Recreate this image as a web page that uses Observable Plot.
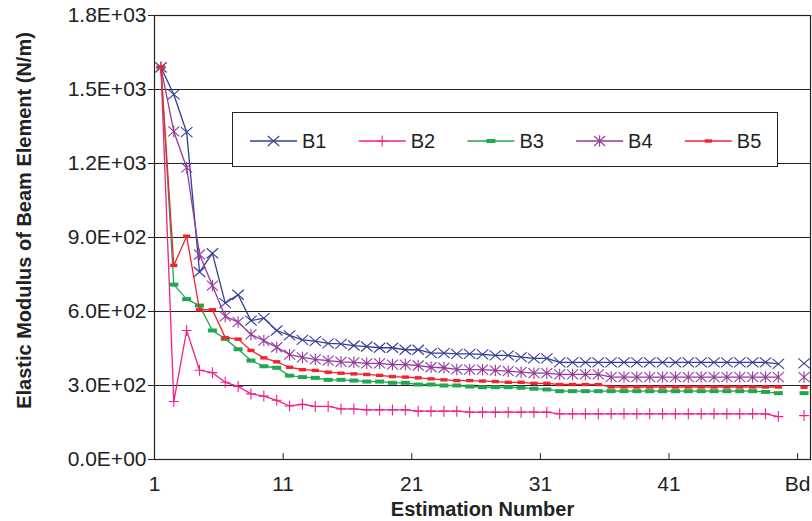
<!DOCTYPE html>
<html><head><meta charset="utf-8">
<script src="https://cdn.jsdelivr.net/npm/d3@7"></script>
<script src="https://cdn.jsdelivr.net/npm/@observablehq/plot@0.6"></script>
<style>
body{margin:0;background:#fff;font-family:"Liberation Sans",Arial,sans-serif;}
#chart{position:relative;width:812px;height:521px;}
#legend{position:absolute;left:232px;top:112px;width:546px;height:55px;border:1px solid #222;background:#fff;box-sizing:border-box;}
</style></head><body><div id="chart"></div>
<script>
// ---- data ----
const seriesNames = ["B1", "B2", "B3", "B4", "B5"];
const seriesColors = ["#343C9A", "#F0208C", "#1FA84F", "#933A9B", "#F5222D"];
const B1 = [1590, 1480, 1327, 760, 836, 634, 668, 563, 573, 523, 503, 485, 480, 471, 469, 462, 458, 453, 453, 445,
  445, 431, 431, 428, 428, 426, 422, 422, 415, 410, 410, 394, 394, 394, 394, 394, 394, 394, 394, 394,
  394, 394, 394, 394, 394, 394, 394, 394, 388];
const B2 = [1590, 235, 523, 362, 352, 313, 296, 266, 257, 240, 217, 224, 215, 215, 205, 205, 201, 201, 201, 201,
  196, 196, 196, 196, 192, 192, 192, 192, 192, 192, 192, 185, 185, 185, 185, 185, 185, 185, 185, 185,
  185, 185, 185, 185, 185, 185, 185, 185, 174];
const B3 = [1590, 709, 650, 624, 523, 489, 447, 401, 378, 372, 340, 334, 331, 323, 323, 320, 316, 316, 311, 311,
  304, 304, 300, 300, 296, 293, 293, 293, 291, 287, 284, 277, 277, 277, 277, 277, 277, 277, 277, 277,
  277, 277, 277, 277, 277, 277, 277, 274, 269];
const B4 = [1590, 1330, 1183, 831, 705, 580, 557, 507, 482, 455, 425, 414, 406, 401, 396, 394, 390, 390, 385, 385,
  381, 374, 372, 365, 364, 364, 361, 358, 354, 350, 350, 345, 345, 345, 345, 334, 334, 334, 334, 334,
  334, 334, 334, 334, 334, 334, 334, 334, 334];
const B5 = [1590, 787, 905, 607, 607, 494, 488, 442, 412, 396, 374, 364, 361, 354, 350, 347, 345, 341, 336, 334,
  331, 327, 323, 320, 320, 318, 316, 313, 313, 309, 309, 304, 304, 304, 304, 294, 294, 294, 294, 294,
  294, 294, 294, 294, 294, 294, 294, 294, 294];
const bdValues = [390, 178, 269, 334, 293];   // "Bd" column, per series
const bdIndex = 51;                            // category slot of "Bd"
const xTickLabels = ["1", "11", "21", "31", "41", "Bd"];
const yTicks = [0, 300, 600, 900, 1200, 1500, 1800];
const yLabel = "Elastic Modulus of Beam Element (N/m)";
const xLabel = "Estimation Number";

// ---- build table ----
const seriesValues = [B1, B2, B3, B4, B5];
const rows = [];
seriesNames.forEach((s, k) => {
  seriesValues[k].forEach((v, i) => rows.push({series: s, x: i + 1, y: v, bd: false}));
  rows.push({series: s, x: bdIndex, y: bdValues[k], bd: true});
});
const xTickPos = xTickLabels.map(l => (l === "Bd" ? bdIndex : +l) - 0.5);
const xTickText = new Map(xTickPos.map((p, i) => [p, xTickLabels[i]]));
const sciFmt = d => {
  const [m, e] = d.toExponential(1).split("e");
  return m + "E" + (e[0] === "-" ? "-" : "+") + String(Math.abs(+e)).padStart(2, "0");
};

// ---- marker symbols ----
const rad = size => Math.sqrt(size / Math.PI);
const symTimes = {draw(c, size) {const r = rad(size), w = r * 1.15; c.moveTo(-w, -r); c.lineTo(w, r); c.moveTo(w, -r); c.lineTo(-w, r);}};
const symPlus = {draw(c, size) {const r = rad(size); c.moveTo(-r, 0); c.lineTo(r, 0); c.moveTo(0, -r * 1.1); c.lineTo(0, r * 1.1);}};
const symAst = {draw(c, size) {const r = rad(size), w = r * 1.1; c.moveTo(-w, -r); c.lineTo(w, r); c.moveTo(w, -r); c.lineTo(-w, r); c.moveTo(0, -r * 1.15); c.lineTo(0, r * 1.15);}};
const symDashG = {draw(c, size) {const r = rad(size); c.rect(-r * 0.9, -r * 0.4, r * 1.8, r * 0.8);}};
const symDashR = {draw(c, size) {const r = rad(size); c.rect(-r * 0.72, -r * 0.34, r * 1.44, r * 0.68);}};
const markerSpec = [
  {symbol: symTimes, filled: false},
  {symbol: symPlus, filled: false},
  {symbol: symDashG, filled: true},
  {symbol: symAst, filled: false},
  {symbol: symDashR, filled: true}
];
const markerR = 5;

const tickUp = {draw(c, l) {c.moveTo(0, 0); c.lineTo(0, -l);}};

const marks = [
  Plot.gridY(yTicks.filter(t => t > 0), {stroke: "#222", strokeOpacity: 1, strokeWidth: 1}),
  Plot.frame({stroke: "#222", strokeWidth: 1.2})
];
seriesNames.forEach((s, k) => {
  const color = seriesColors[k];
  marks.push(Plot.line(rows.filter(d => d.series === s && !d.bd), {x: "x", y: "y", stroke: color, strokeWidth: 1.3}));
  const ms = markerSpec[k];
  marks.push(Plot.dot(rows.filter(d => d.series === s), {
    x: "x", y: "y", r: markerR, symbol: ms.symbol,
    fill: ms.filled ? color : "none", stroke: ms.filled ? "none" : color, strokeWidth: 1.1
  }));
});
marks.push(
  Plot.axisY({ticks: yTicks, tickFormat: sciFmt, tickSize: 6, tickPadding: 2, fontSize: 21, label: null, stroke: "#222", fill: "#222"}),
  Plot.axisX(xTickPos, {tickSize: 0, tickPadding: 17, tickFormat: d => xTickText.get(d), fontSize: 21, label: null, fill: "#222"}),
  Plot.vector(xTickPos, {x: d => d, frameAnchor: "bottom", length: 6, anchor: "start", shape: tickUp, stroke: "#222", strokeWidth: 1}),
  Plot.text([yLabel], {frameAnchor: "left", textAnchor: "middle", lineAnchor: "middle", dx: -130, dy: -17, rotate: -90, fontSize: 20, fontWeight: "bold", fill: "#222"}),
  Plot.text([xLabel], {frameAnchor: "bottom", lineAnchor: "middle", dy: 50, fontSize: 20, fontWeight: "bold", fill: "#222"})
);

const chart = Plot.plot({
  width: 812, height: 521,
  marginLeft: 154, marginRight: 2, marginTop: 15, marginBottom: 62,
  style: {fontFamily: "'Liberation Sans', Arial, sans-serif", color: "#222", background: "#fff"},
  x: {domain: [0.5, bdIndex + 0.5]},
  y: {domain: [0, 1800]},
  marks
});
const root = document.getElementById("chart");
root.appendChild(chart);

// ---- legend (inside plot area) ----
const legend = document.createElement("div");
legend.id = "legend";
const ns = "http://www.w3.org/2000/svg";
const lsvg = document.createElementNS(ns, "svg");
lsvg.setAttribute("width", 544); lsvg.setAttribute("height", 53);
seriesNames.forEach((s, k) => {
  const x0 = 17 + k * 108.7, cy = 28;
  const g = document.createElementNS(ns, "g");
  const line = document.createElementNS(ns, "line");
  line.setAttribute("x1", x0); line.setAttribute("x2", x0 + 47);
  line.setAttribute("y1", cy); line.setAttribute("y2", cy);
  line.setAttribute("stroke", seriesColors[k]); line.setAttribute("stroke-width", 1.3);
  g.appendChild(line);
  const p = d3.path();
  markerSpec[k].symbol.draw(p, markerR * markerR * Math.PI);
  const path = document.createElementNS(ns, "path");
  path.setAttribute("d", p.toString());
  path.setAttribute("transform", `translate(${x0 + 23.5},${cy})`);
  if (markerSpec[k].filled) {path.setAttribute("fill", seriesColors[k]);}
  else {path.setAttribute("fill", "none"); path.setAttribute("stroke", seriesColors[k]); path.setAttribute("stroke-width", 1.1);}
  g.appendChild(path);
  const t = document.createElementNS(ns, "text");
  t.setAttribute("x", x0 + 52); t.setAttribute("y", cy);
  t.setAttribute("dy", "0.35em");
  t.setAttribute("font-size", 20); t.setAttribute("fill", "#222");
  t.setAttribute("font-family", "'Liberation Sans', Arial, sans-serif");
  t.textContent = s;
  g.appendChild(t);
  lsvg.appendChild(g);
});
legend.appendChild(lsvg);
root.appendChild(legend);
</script>
</body></html>
